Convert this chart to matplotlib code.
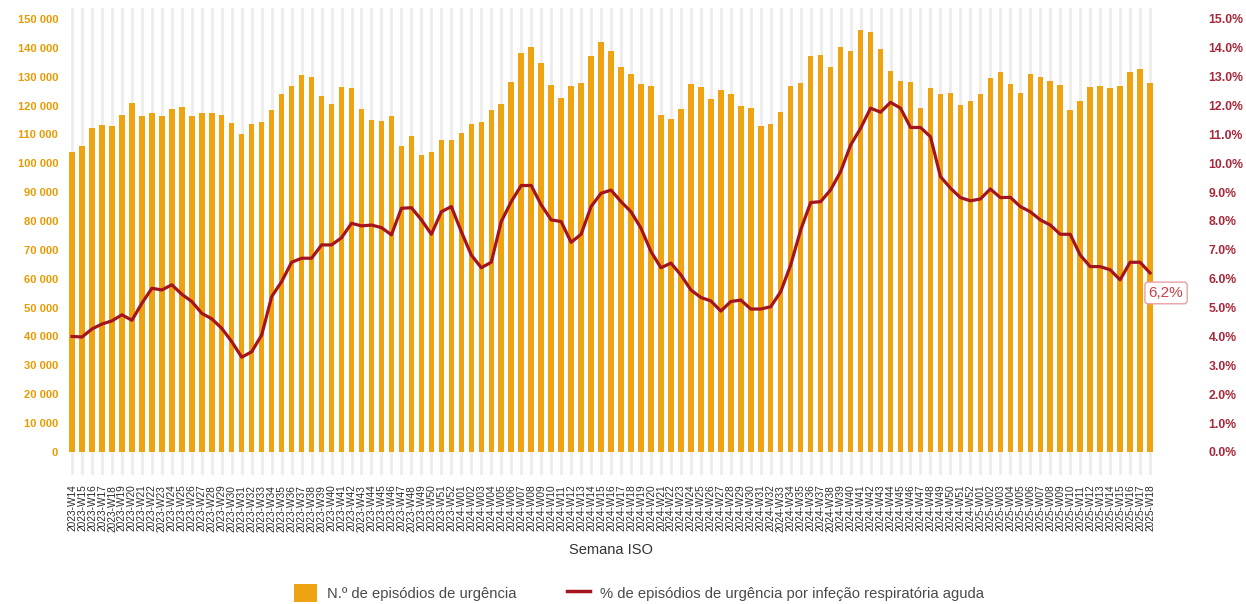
import matplotlib.pyplot as plt
from matplotlib.lines import Line2D
import matplotlib.patches as mpatches
from matplotlib.ticker import FuncFormatter

plt.rcParams['font.family'] = ['Liberation Sans', 'DejaVu Sans']

# --- data ---
weeks_2023 = list(range(14, 53))
weeks_2024 = list(range(1, 53))
weeks_2025 = list(range(1, 19))
week_labels = ([f"2023-W{w:02d}" for w in weeks_2023]
               + [f"2024-W{w:02d}" for w in weeks_2024]
               + [f"2025-W{w:02d}" for w in weeks_2025])

episodes = [
    104000, 106100, 112100, 113300, 113000, 116700, 120800, 116400, 117300, 116400,
    118700, 119600, 116400, 117300, 117300, 116700, 114100, 110100, 113600, 114200,
    118500, 124000, 126600, 130600, 130000, 123400, 120400, 126300, 126000, 118800,
    115000, 114800, 116200, 106100, 109600, 102900, 103800, 108100, 108100, 110400,
    113600, 114400, 118500, 120400, 128100, 138100, 140400, 134900, 127100, 122700,
    126800, 127900, 137200, 141900, 139000, 133300, 130900, 127300, 126600, 116700,
    115500, 118700, 127500, 126300, 122300, 125400, 124000, 120000, 119100, 112900,
    113500, 117700, 126900, 127700, 137200, 137500, 133500, 140400, 139000, 146000,
    145600, 139600, 132100, 128600, 128000, 119000, 126000, 123900, 124500, 120200,
    121400, 124000, 129400, 131500, 127500, 124500, 130800, 130000, 128500, 127100,
    118500, 121700, 126300, 126800, 126200, 126800, 131500, 132600, 127900,
]

pct_ira = [
    4.00, 3.98, 4.26, 4.43, 4.54, 4.75, 4.56, 5.15, 5.67, 5.61,
    5.79, 5.46, 5.21, 4.80, 4.61, 4.28, 3.82, 3.28, 3.47, 4.05,
    5.38, 5.90, 6.57, 6.71, 6.71, 7.17, 7.17, 7.42, 7.92, 7.83,
    7.86, 7.77, 7.52, 8.44, 8.46, 8.04, 7.54, 8.32, 8.50, 7.63,
    6.82, 6.38, 6.57, 7.98, 8.67, 9.23, 9.23, 8.56, 8.04, 7.98,
    7.26, 7.54, 8.50, 8.96, 9.07, 8.67, 8.32, 7.75, 6.94, 6.38,
    6.54, 6.13, 5.61, 5.35, 5.23, 4.88, 5.21, 5.26, 4.95, 4.95,
    5.03, 5.55, 6.48, 7.69, 8.64, 8.67, 9.08, 9.71, 10.63, 11.21,
    11.91, 11.77, 12.11, 11.91, 11.24, 11.24, 10.92, 9.54, 9.14, 8.81,
    8.70, 8.76, 9.11, 8.81, 8.82, 8.50, 8.32, 8.04, 7.86, 7.54,
    7.54, 6.82, 6.42, 6.42, 6.31, 5.96, 6.57, 6.57, 6.20,
]

orange = '#EEA412'
dark_red = '#A3141F'
axis_red = '#A8283A'

# --- figure ---
fig = plt.figure(figsize=(12.46, 6.04), dpi=100)
ax = fig.add_axes([0.0522, 0.2136, 0.8764, 0.7732])
x = list(range(len(episodes)))

ax.bar(x, episodes, width=0.55, color=orange, zorder=2)
ax.set_xlim(-0.7, len(episodes) - 0.3)
ax.set_ylim(-8000, 153800)
ax.set_yticks(range(0, 150001, 10000))
ax.yaxis.set_major_formatter(FuncFormatter(lambda v, p: f"{int(v):,}".replace(',', ' ')))
ax.tick_params(axis='y', length=0, pad=5, labelsize=8, labelcolor='#E89A00')
for t in ax.get_yticklabels():
    t.set_fontweight('bold')

ax.set_xticks(x)
ax.set_xticklabels(week_labels, rotation=90, fontsize=7.3, color='#2b2b2b')
ax.tick_params(axis='x', length=0, pad=7)
ax.grid(axis='x', color='#ececec', lw=2)
ax.set_axisbelow(True)
for s in ax.spines.values():
    s.set_visible(False)
ax.set_xlabel('Semana ISO', fontsize=10.5, color='#333333', labelpad=8)

# line on secondary axis
ax2 = ax.twinx()
ax2.plot(x, pct_ira, color=dark_red, lw=2.3, zorder=3)
ax2.set_ylim(-0.8, 15.38)
ax2.set_yticks([i for i in range(0, 16)])
ax2.yaxis.set_major_formatter(FuncFormatter(lambda v, p: f"{v:.1f}%"))
ax2.tick_params(axis='y', length=0, pad=37, labelsize=8.8, labelcolor=axis_red)
for t in ax2.get_yticklabels():
    t.set_fontweight('bold')
for s in ax2.spines.values():
    s.set_visible(False)

ax2.annotate(f"{pct_ira[-1]:.1f}%".replace('.', ','), xy=(x[-1], pct_ira[-1]),
             xytext=(11.5, -14.4), textcoords='offset points',
             ha='center', va='center', fontsize=11, color='#C8404A',
             bbox=dict(boxstyle='round,pad=0.25,rounding_size=0.2',
                       facecolor='white', edgecolor='#E8A0A6', lw=1))

# legend
handles = [mpatches.Patch(facecolor=orange, edgecolor='none', label='N.º de episódios de urgência'),
           Line2D([0], [0], color=dark_red, lw=2.5,
                  label='% de episódios de urgência por infeção respiratória aguda')]
fig.legend(handles=handles, loc='center', bbox_to_anchor=(0.513, 0.018), ncol=2,
           frameon=False, fontsize=10.6, labelcolor='#4a4a4a',
           handlelength=1.55, handleheight=1.55, columnspacing=3.4, handletextpad=0.7)

fig.savefig('out.png', dpi=100)
